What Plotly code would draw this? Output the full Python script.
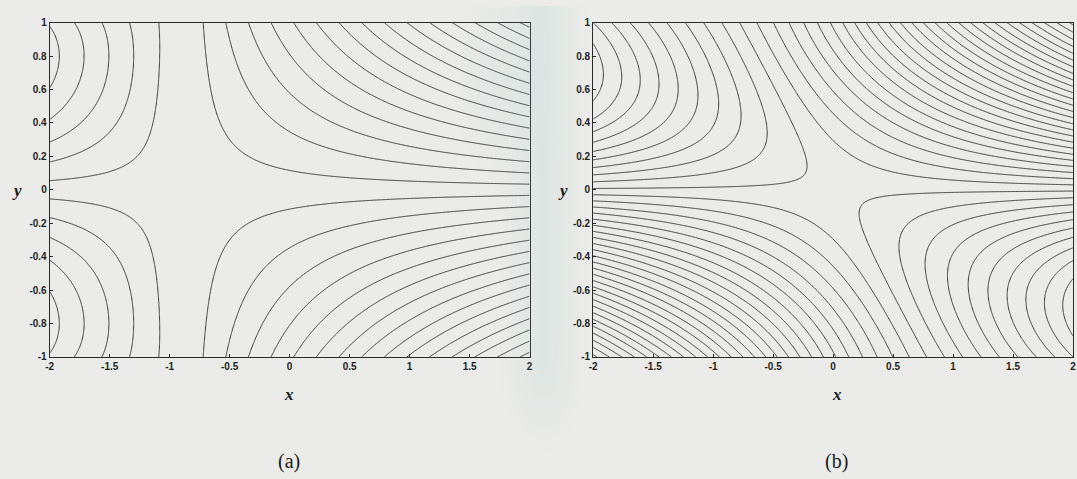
import base64
import struct
import zlib

import numpy as np
import plotly.graph_objects as go

# Level curves of f = (x - X0 + SHEAR*y) * P(x, y): the profile P blends from a
# left-hand form to a right-hand form across the box.  Contour levels are
# k + LEVEL_OFFSET (k integer) in the units of the profile.

# ---- panel (a): saddle near x = -0.9, arcs about y = +-0.8 on the left edge
A_X0 = [-0.99, -0.815]           # root of the x factor on the left / right side
A_LEFT_COEF = [9.07, -4.72]      # P_L(y) = c1*y + c3*y^3
A_RIGHT_COEF = [5.3, 0.0]        # P_R(y) = c1*y + c3*y^3
A_BLEND = [-0.98, 0.04]          # centre and width of the left->right blend
A_LEVEL_OFFSET = 0.5

# ---- panel (b): sheared saddle at the origin, arcs about (-2, 0.7) and (2, -0.7)
B_SHEAR = 0.75
B_ARC = [6.85, 0.84]             # amplitude and quarter-period height of the arch part
B_SLOPE = [13.5, 4.0]            # linear/quadratic part on the steep side
B_BLEND = [0.0, 0.35]
B_LEVEL_OFFSET = 0.8

X_TICKS = [-2, -1.5, -1, -0.5, 0, 0.5, 1, 1.5, 2]
X_LABELS = ["-2", "-1.5", "-1", "-0.5", "0", "0.5", "1", "1.5", "2"]
Y_TICKS = [-1, -0.8, -0.6, -0.4, -0.2, 0, 0.2, 0.4, 0.6, 0.8, 1]
Y_LABELS = ["-1", "-0.8", "-0.6", "-0.4", "-0.2", "0", "0.2", "0.4", "0.6", "0.8", "1"]

xs = np.linspace(-2, 2, 601)
ys = np.linspace(-1, 1, 301)
XX, YY = np.meshgrid(xs, ys)


def blend(x, centre, width):
    return 1.0 / (1.0 + np.exp(-(x - centre) / width))


def odd_cubic(y, coef):
    return coef[0] * y + coef[1] * y ** 3


def arch_profile(y, arc, slope):
    amp, yc = arc
    a1, a2 = slope
    upper = amp * np.sin(np.pi * y / (2 * yc))
    lower = a1 * y + a2 * y ** 2
    return np.where(y >= 0, upper, lower)


# panel (a)
wa = blend(XX, *A_BLEND)
za = ((1 - wa) * (XX - A_X0[0]) * odd_cubic(YY, A_LEFT_COEF)
      + wa * (XX - A_X0[1]) * odd_cubic(YY, A_RIGHT_COEF))

# panel (b): the right profile is the point reflection of the left one
wb = blend(XX, *B_BLEND)
PbL = arch_profile(YY, B_ARC, B_SLOPE)
PbR = -arch_profile(-YY, B_ARC, B_SLOPE)
zb = (XX + B_SHEAR * YY) * ((1 - wb) * PbL + wb * PbR)

LINE = "#3c3c3c"
BG = "#ebebe9"


def contour(z, offset, xa, ya):
    n = 80
    return go.Contour(
        x=xs, y=ys, z=z, xaxis=xa, yaxis=ya,
        contours=dict(coloring="none", start=-n + offset, end=n + offset, size=1),
        line=dict(color=LINE, width=1, smoothing=1),
        showscale=False, hoverinfo="skip",
    )


fig = go.Figure()
fig.add_trace(contour(za, A_LEVEL_OFFSET, "x", "y"))
fig.add_trace(contour(zb, B_LEVEL_OFFSET, "x2", "y2"))

tick_font = dict(family="Arial, Liberation Sans, sans-serif", size=10, color="#1e1e1e")
common = dict(showgrid=False, zeroline=False, showline=True, linecolor="#2a2a2a",
              linewidth=1, mirror=True, ticks="inside", ticklen=3, tickcolor="#2a2a2a",
              tickfont=tick_font)
ydom = [1 - 360 / 479, 1 - 17 / 479]
fig.update_layout(
    width=1077, height=479, margin=dict(l=0, r=0, t=0, b=0),
    paper_bgcolor=BG, plot_bgcolor=BG, showlegend=False,
    xaxis=dict(domain=[46 / 1077, 529 / 1077], range=[-2, 2], tickvals=X_TICKS,
               ticktext=[f"<b>{t}</b>" for t in X_LABELS], anchor="y", **common),
    yaxis=dict(domain=ydom, range=[-1, 1], tickvals=Y_TICKS,
               ticktext=[f"<b>{t}</b>" for t in Y_LABELS], anchor="x", **common),
    xaxis2=dict(domain=[593 / 1077, 1076 / 1077], range=[-2, 2], tickvals=X_TICKS,
                ticktext=[f"<b>{t}</b>" for t in X_LABELS], anchor="y2", **common),
    yaxis2=dict(domain=ydom, range=[-1, 1], tickvals=Y_TICKS,
                ticktext=[f"<b>{t}</b>" for t in Y_LABELS], anchor="x2", **common),
)


# soft tinted smear of the scanned page between the panels, as a small RGBA image
def png_data_uri(rgba):
    h, w, _ = rgba.shape
    raw = b"".join(b"\x00" + rgba[r].tobytes() for r in range(h))

    def chunk(tag, data):
        body = tag + data
        return struct.pack(">I", len(data)) + body + struct.pack(">I", zlib.crc32(body) & 0xFFFFFFFF)

    png = (b"\x89PNG\r\n\x1a\n"
           + chunk(b"IHDR", struct.pack(">IIBBBBB", w, h, 8, 6, 0, 0, 0))
           + chunk(b"IDAT", zlib.compress(raw, 9))
           + chunk(b"IEND", b""))
    return "data:image/png;base64," + base64.b64encode(png).decode()


hx0, hw, hh = 440, 220, 479
gx, gy = np.meshgrid(np.arange(hw) + hx0, np.arange(hh))
fade = 1.0 / (1.0 + np.exp((gy - 410) / 18.0))
alpha = (0.13 * np.exp(-((gx - 542) / 26.0) ** 2) * fade
         + 0.08 * np.exp(-((gx - 500) / 32.0) ** 2 - ((gy - 70) / 70.0) ** 2))
tint = np.zeros((hh, hw, 4), dtype=np.uint8)
tint[..., 0], tint[..., 1], tint[..., 2] = 135, 195, 188
tint[..., 3] = np.clip(alpha * 255, 0, 255).astype(np.uint8)
fig.add_layout_image(source=png_data_uri(tint), xref="paper", yref="paper",
                     x=hx0 / 1077, y=1.0, sizex=hw / 1077, sizey=1.0,
                     xanchor="left", yanchor="top", sizing="stretch", layer="above")

serif = "Times New Roman, Liberation Serif, DejaVu Serif, serif"
notes = [
    ("<b><i>y</i></b>", 13, 189, 17),
    ("<b><i>x</i></b>", 287, 398, 17),
    ("(a)", 287, 467, 20),
    ("<b><i>y</i></b>", 563, 189, 17),
    ("<b><i>x</i></b>", 838, 398, 17),
    ("(b)", 838, 467, 20),
]
for text, px, py, size in notes:
    fig.add_annotation(text=text, x=px / 1077, y=1 - py / 479, xref="paper", yref="paper",
                       showarrow=False, xanchor="center", yanchor="middle",
                       font=dict(family=serif, size=size, color="#1a1a1a"))

fig.write_html("out.html")
